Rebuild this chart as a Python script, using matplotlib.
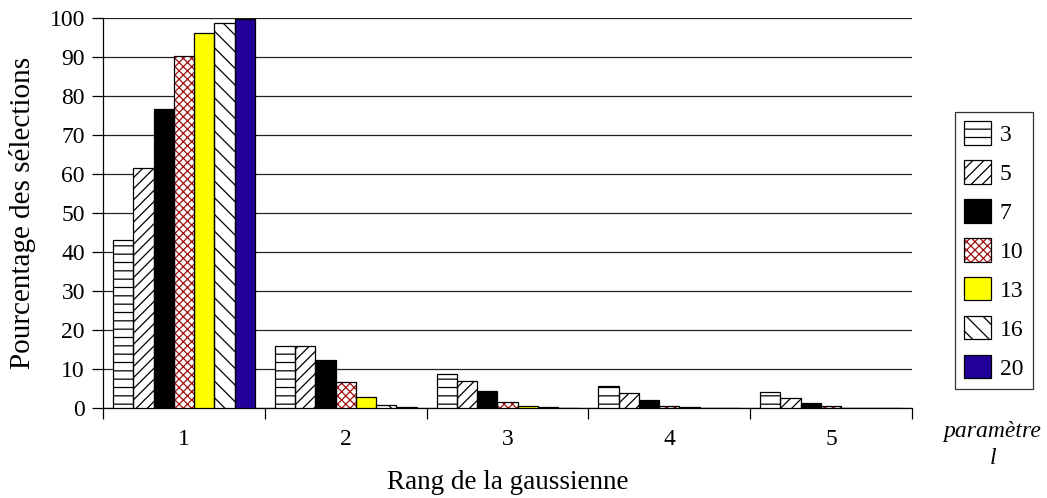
import numpy as np
import matplotlib.pyplot as plt
from matplotlib.patches import Patch

plt.rcParams['font.family'] = ['Liberation Serif', 'DejaVu Serif']
plt.rcParams['hatch.linewidth'] = 0.9

# Data
rangs = ['1', '2', '3', '4', '5']
params_l = ['3', '5', '7', '10', '13', '16', '20']
valeurs = {
    '3':  [43.1, 16.0, 8.6, 5.6, 4.0],
    '5':  [61.5, 15.8, 7.0, 3.8, 2.5],
    '7':  [76.7, 12.4, 4.4, 2.0, 1.2],
    '10': [90.2, 6.6, 1.5, 0.6, 0.4],
    '13': [96.2, 2.7, 0.5, 0.2, 0.1],
    '16': [98.7, 0.9, 0.2, 0.1, 0.05],
    '20': [99.8, 0.2, 0.1, 0.05, 0.05],
}

# style per series: facecolor, hatch, hatch colour
styles = {
    '3':  ('white', '--', 'black'),
    '5':  ('white', '///', 'black'),
    '7':  ('black', None, 'black'),
    '10': ('white', 'xxxx', '#a01010'),
    '13': ('#ffff00', None, 'black'),
    '16': ('white', '\\\\', 'black'),
    '20': ('#22009a', None, 'black'),
}

fig = plt.figure(figsize=(10.47, 4.98), dpi=100)
ax = fig.add_axes([0.0984, 0.1807, 0.7726, 0.7832])

x = np.arange(len(rangs))
n = len(params_l)
w = 0.876 / n
handles = []
for i, p in enumerate(params_l):
    fc, hatch, hc = styles[p]
    pos = x - 0.438 + w * (i + 0.5)
    ax.bar(pos, valeurs[p], w, color=fc, hatch=hatch, edgecolor=hc,
           linewidth=0, zorder=3)
    ax.bar(pos, valeurs[p], w, fill=False, edgecolor='black',
           linewidth=0.9, zorder=4)
    # legend key: hatched fill + black border, drawn on top of each other
    handles.append((Patch(facecolor=fc, hatch=hatch, edgecolor=hc, linewidth=0),
                    Patch(fill=False, edgecolor='black', linewidth=0.9)))

ax.set_ylim(0, 100)
ax.set_xlim(-0.5, len(rangs) - 0.5)
ax.set_yticks(np.arange(0, 101, 10))
ax.yaxis.grid(True, color='#222222', linewidth=0.9, zorder=0)
ax.set_axisbelow(True)
ax.tick_params(axis='y', labelsize=17, direction='out', length=8, width=0.9, pad=5)

ax.set_xticks(x)
ax.set_xticklabels(rangs, fontsize=17)
ax.tick_params(axis='x', which='major', length=0, pad=15)
ax.set_xticks(np.arange(-0.5, len(rangs) + 0.5, 1), minor=True)
ax.tick_params(axis='x', which='minor', length=8, width=0.9, direction='out')

for s in ['top', 'right']:
    ax.spines[s].set_visible(False)
for s in ['left', 'bottom']:
    ax.spines[s].set_linewidth(0.9)

ax.set_ylabel('Pourcentage des sélections', fontsize=21)
ax.yaxis.set_label_coords(-0.083, 0.5)
ax.set_xlabel('Rang de la gaussienne', fontsize=19.5)
ax.xaxis.set_label_coords(0.5, -0.158)

leg = fig.legend(handles=handles, labels=params_l, loc='upper left',
                 bbox_to_anchor=(0.912, 0.775), fontsize=17,
                 frameon=True, fancybox=False, edgecolor='black',
                 handlelength=1.15, handleheight=1.15, labelspacing=0.6,
                 handletextpad=0.35, borderpad=0.4, borderaxespad=0)
leg.get_frame().set_linewidth(0.9)

fig.text(0.948, 0.106, 'paramètre\nl', fontsize=17, style='italic',
         ha='center', va='center', linespacing=1.35)

fig.savefig('out.png', dpi=100)
